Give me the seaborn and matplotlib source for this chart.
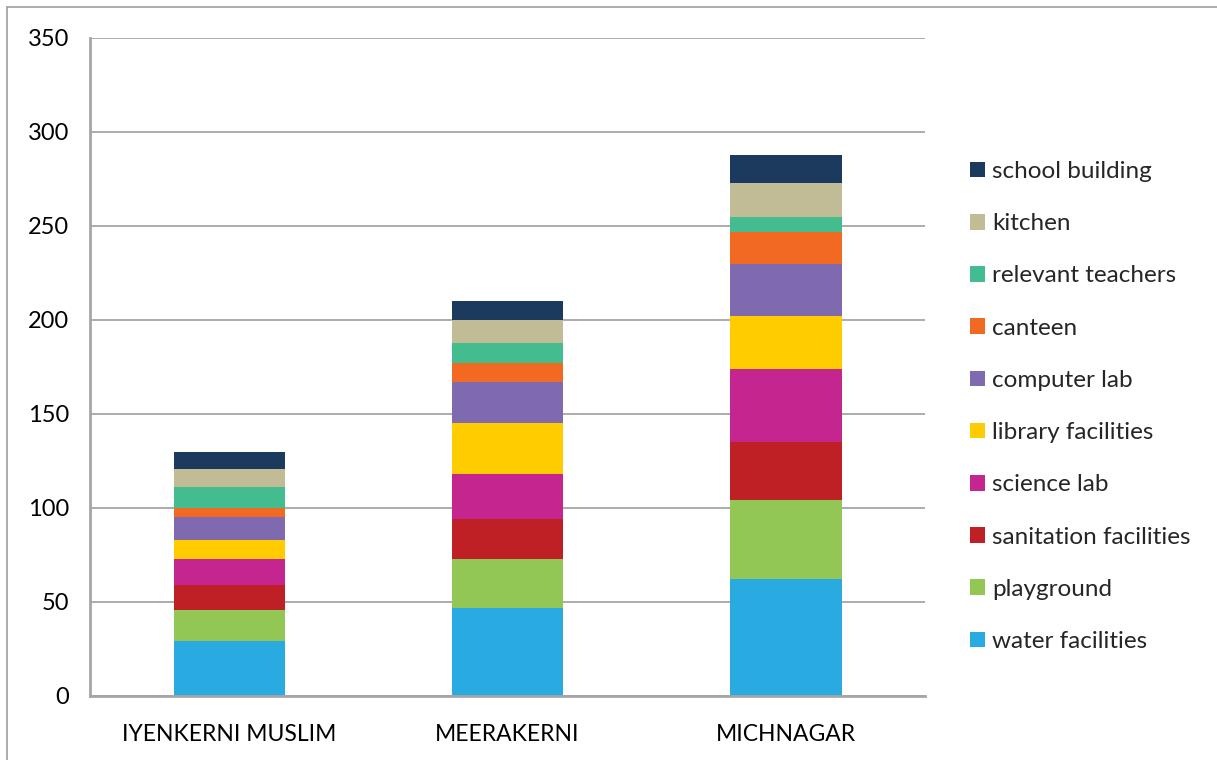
import matplotlib
matplotlib.use("Agg")
import matplotlib.pyplot as plt
import seaborn as sns
import pandas as pd
import numpy as np
from matplotlib.patches import Patch
from matplotlib.lines import Line2D

schools = ["IYENKERNI MUSLIM", "MEERAKERNI", "MICHNAGAR"]
categories = ["water facilities", "playground", "sanitation facilities", "science lab",
              "library facilities", "computer lab", "canteen", "relevant teachers",
              "kitchen", "school building"]
water = [29, 47, 62]
playground = [17, 26, 42]
sanitation = [13, 21, 31]
science = [14, 24, 39]
library = [10, 27, 28]
computer = [12, 22, 28]
canteen = [5, 10, 17]
teachers = [11, 11, 8]
kitchen = [10, 12, 18]
building = [9, 10, 15]
colors = ["#29ABE2", "#92C655", "#BE2026", "#C5258E", "#FFCC00",
          "#7F69AF", "#F26922", "#43BD8F", "#C2BC96", "#1B3A5E"]
yticks = [0, 50, 100, 150, 200, 250, 300, 350]

series = [water, playground, sanitation, science, library, computer,
          canteen, teachers, kitchen, building]

sns.set_style("white")
plt.rcParams['font.family'] = ['Lato', 'DejaVu Sans']

fig = plt.figure(figsize=(12.17, 7.60), dpi=100)
ax = fig.add_axes([90/1217, 64/760, 835/1217, 658/760])

cum = np.cumsum(np.array(series), axis=0)
# draw from top layer down so lower segments overlay the cumulative totals
for i in range(len(categories) - 1, -1, -1):
    df = pd.DataFrame({"school": schools, "value": cum[i]})
    sns.barplot(data=df, x="school", y="value", color=colors[i], width=0.4,
                saturation=1, ax=ax, edgecolor="none", linewidth=0, zorder=3)

ax.set_xlim(-0.5, 2.5)
ax.set_ylim(0, 350)
ax.set_yticks(yticks)
ax.set_yticklabels([str(t) for t in yticks], fontsize=17)
ax.set_xlabel("")
ax.set_ylabel("")
ax.yaxis.grid(True, color="#A6A6A6", linewidth=1.3, zorder=0)
ax.set_axisbelow(True)
for s in ["top", "right"]:
    ax.spines[s].set_visible(False)
for s in ["left", "bottom"]:
    ax.spines[s].set_color("#A6A6A6")
    ax.spines[s].set_linewidth(2)
    ax.spines[s].set_zorder(4)
ax.tick_params(axis="y", length=8, width=1.3, color="#A6A6A6", pad=7, labelcolor="black")
ax.tick_params(axis="x", which="major", length=0, pad=20, labelsize=16.5, labelcolor="black")
ax.set_xticks([-0.5, 0.5, 1.5, 2.5], minor=True)
ax.tick_params(axis="x", which="minor", length=8, width=1.3, color="#A6A6A6")

handles = [Patch(facecolor=colors[i], edgecolor="none", label=categories[i])
           for i in range(len(categories) - 1, -1, -1)]
leg = fig.legend(handles=handles, loc="upper left", bbox_to_anchor=(970/1217, 1 - 161/760),
                 frameon=False, fontsize=17.5, handlelength=0.62, handleheight=0.62,
                 handletextpad=0.29, labelspacing=1.285, borderaxespad=0, borderpad=0)

fig.add_artist(Line2D([7/1217, 7/1217], [0, 1 - 7/760], transform=fig.transFigure,
                      color="#A6A6A6", linewidth=1.3))
fig.add_artist(Line2D([7/1217, 1], [1 - 7/760, 1 - 7/760], transform=fig.transFigure,
                      color="#A6A6A6", linewidth=1.3))

fig.savefig("out.png", dpi=100)
